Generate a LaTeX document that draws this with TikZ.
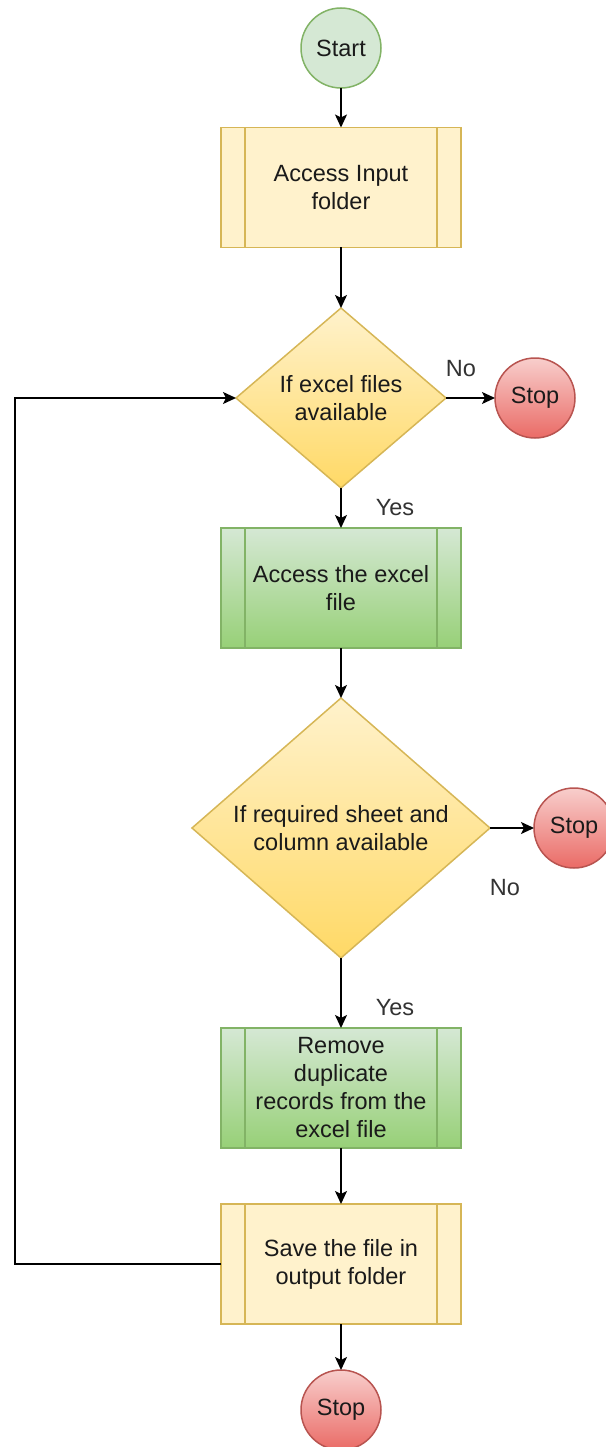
\documentclass[tikz,border=0pt]{standalone}
\usepackage{fontspec}
\setmainfont{Liberation Sans}
\usetikzlibrary{shapes.geometric,arrows.meta}
\definecolor{ylfill}{HTML}{FFF2CC}
\definecolor{ylline}{HTML}{D6B656}
\definecolor{ylbot}{HTML}{FFD966}
\definecolor{grtop}{HTML}{D5E8D4}
\definecolor{grbot}{HTML}{97D077}
\definecolor{grline}{HTML}{82B366}
\definecolor{rdtop}{HTML}{F8CECC}
\definecolor{rdbot}{HTML}{EA6B66}
\definecolor{rdline}{HTML}{B85450}
\definecolor{txtc}{HTML}{1A1A1A}
\definecolor{lblc}{HTML}{333333}
\begin{document}
\begin{tikzpicture}[x=1pt,y=-1pt,
  every node/.style={font=\fontsize{23.5}{28}\selectfont, text=txtc, align=center},
  proc/.style={rectangle, draw=ylline, fill=ylfill, line width=1.5pt, minimum width=240pt, minimum height=120pt, inner sep=0pt, outer sep=0pt},
  gproc/.style={proc, draw=grline, top color=grtop, bottom color=grbot},
  dia/.style={diamond, draw=ylline, top color=ylfill, bottom color=ylbot, line width=1.5pt, inner sep=0pt, outer sep=0pt},
  startc/.style={circle, draw=grline, fill=grtop, line width=1.5pt, minimum size=80pt, inner sep=0pt, outer sep=0pt},
  stopc/.style={circle, draw=rdline, top color=rdtop, bottom color=rdbot, line width=1.5pt, minimum size=80pt, inner sep=0pt, outer sep=0pt},
  arr/.style={-{Stealth[length=13pt,width=12pt,inset=3pt]}, line width=1.5pt, black},
  lbl/.style={text=lblc}
]
\useasboundingbox (0,0) rectangle (605,1447);
\node[startc] (start) at (341,48) {Start};
\node[proc] (p1) at (341,187.5) {Access Input\\folder};
\node[dia, minimum width=210pt, minimum height=180pt] (d1) at (341,398) {};
\node (t1) at (d1) {If excel files\\available};
\node[stopc] (s1) at (535,398) {Stop};
\node[gproc] (p2) at (341,588) {Access the excel\\file};
\node[dia, minimum width=298pt, minimum height=260pt] (d2) at (341,828) {};
\node (t2) at (d2) {If required sheet and\\column available};
\node[stopc] (s2) at (574,828) {Stop};
\node[gproc] (p3) at (341,1088) {Remove\\duplicate\\records from the\\excel file};
\node[proc] (p4) at (341,1264) {Save the file in\\output folder};
\node[stopc] (s3) at (341,1410) {Stop};
\foreach \n/\c in {p1/ylline,p2/grline,p3/grline,p4/ylline}{
  \draw[\c, line width=1.5pt] ([xshift=24pt]\n.north west) -- ([xshift=24pt]\n.south west);
  \draw[\c, line width=1.5pt] ([xshift=-24pt]\n.north east) -- ([xshift=-24pt]\n.south east);
}
\node[lbl] (no1) at (461,369) {No};
\node[lbl] (yes1) at (395,508) {Yes};
\node[lbl] (no2) at (505,888) {No};
\node[lbl] (yes2) at (395,1008) {Yes};
\coordinate (lp) at (15,1264);
\draw[arr] (start) -- (p1);
\draw[arr] (p1) -- (d1);
\draw[arr] (d1) -- (s1);
\draw[arr] (d1) -- (p2);
\draw[arr] (p2) -- (d2);
\draw[arr] (d2) -- (s2);
\draw[arr] (d2) -- (p3);
\draw[arr] (p3) -- (p4);
\draw[arr] (p4) -- (s3);
\draw[arr] (p4.west) -- (lp) |- (d1.west);
\end{tikzpicture}
\end{document}
